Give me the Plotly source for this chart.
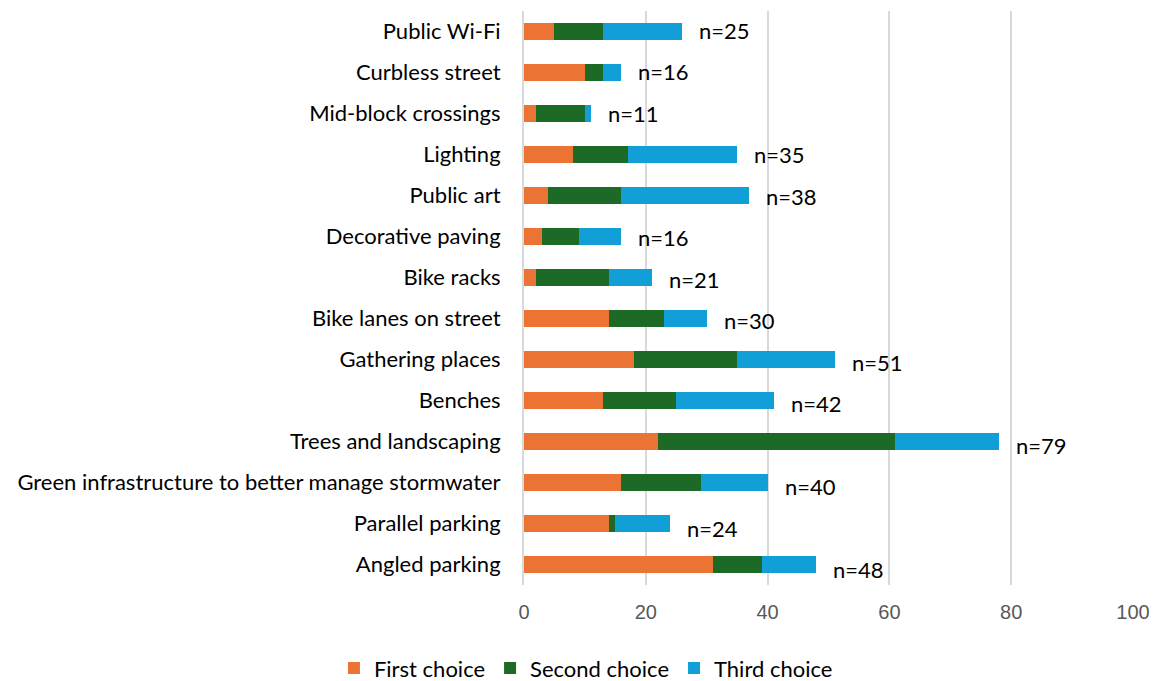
import plotly.graph_objects as go

categories = ["Public Wi-Fi", "Curbless street", "Mid-block crossings", "Lighting", "Public art",
              "Decorative paving", "Bike racks", "Bike lanes on street", "Gathering places", "Benches",
              "Trees and landscaping", "Green infrastructure to better manage stormwater",
              "Parallel parking", "Angled parking"]
first_choice = [5, 10, 2, 8, 4, 3, 2, 14, 18, 13, 22, 16, 14, 31]
second_choice = [8, 3, 8, 9, 12, 6, 12, 9, 17, 12, 39, 13, 1, 8]
third_choice = [13, 3, 1, 18, 21, 7, 7, 7, 16, 16, 17, 11, 9, 9]
n_labels = ["n=25", "n=16", "n=11", "n=35", "n=38", "n=16", "n=21", "n=30", "n=51", "n=42",
            "n=79", "n=40", "n=24", "n=48"]
x_ticks = [0, 20, 40, 60, 80, 100]

FONT = "Lato, Open Sans, sans-serif"
TICKFONT = "Liberation Sans, Arial, sans-serif"

fig = go.Figure()
for name, vals, color in [("First choice", first_choice, "#EB7434"),
                          ("Second choice", second_choice, "#1C6A25"),
                          ("Third choice", third_choice, "#129FD7")]:
    fig.add_trace(go.Bar(y=categories, x=vals, name=name, orientation="h",
                         marker=dict(color=color, line=dict(width=0))))

totals = [a + b + c for a, b, c in zip(first_choice, second_choice, third_choice)]
nrows = len(categories)
for i, (cat, tot, lab) in enumerate(zip(categories, totals, n_labels)):
    fig.add_annotation(x=tot, y=cat, text=lab, showarrow=False, xanchor="left",
                       xshift=15, yshift=(1 - 6 * i / (nrows - 1)),
                       font=dict(family=FONT, size=22, color="#000000"))

fig.update_layout(
    barmode="stack",
    bargap=0.6,
    width=1149, height=673,
    margin=dict(l=516, r=24, t=3, b=96, autoexpand=False),
    plot_bgcolor="white", paper_bgcolor="white",
    font=dict(family=FONT, size=22, color="#000000"),
    legend=dict(orientation="h", x=0.503, xanchor="center", xref="container",
                y=-0.145, yanchor="middle", yref="paper",
                font=dict(family=FONT, size=22, color="#000000"),
                traceorder="normal", itemwidth=30),
    xaxis=dict(range=[0, 100], tickvals=x_ticks, showgrid=True, gridcolor="#D9D9D9",
               gridwidth=2, zeroline=False, showline=False, ticks="", automargin=False,
               tickfont=dict(family=TICKFONT, size=20, color="#595959"), ticklabelstandoff=13),
    yaxis=dict(categoryorder="array", categoryarray=categories, autorange="reversed",
               showgrid=False, zeroline=False, showline=True, linecolor="#D9D9D9", linewidth=2,
               ticks="", ticklabelstandoff=17, automargin=False,
               tickfont=dict(family=FONT, size=22, color="#000000")),
)

fig.write_html("out.html")
